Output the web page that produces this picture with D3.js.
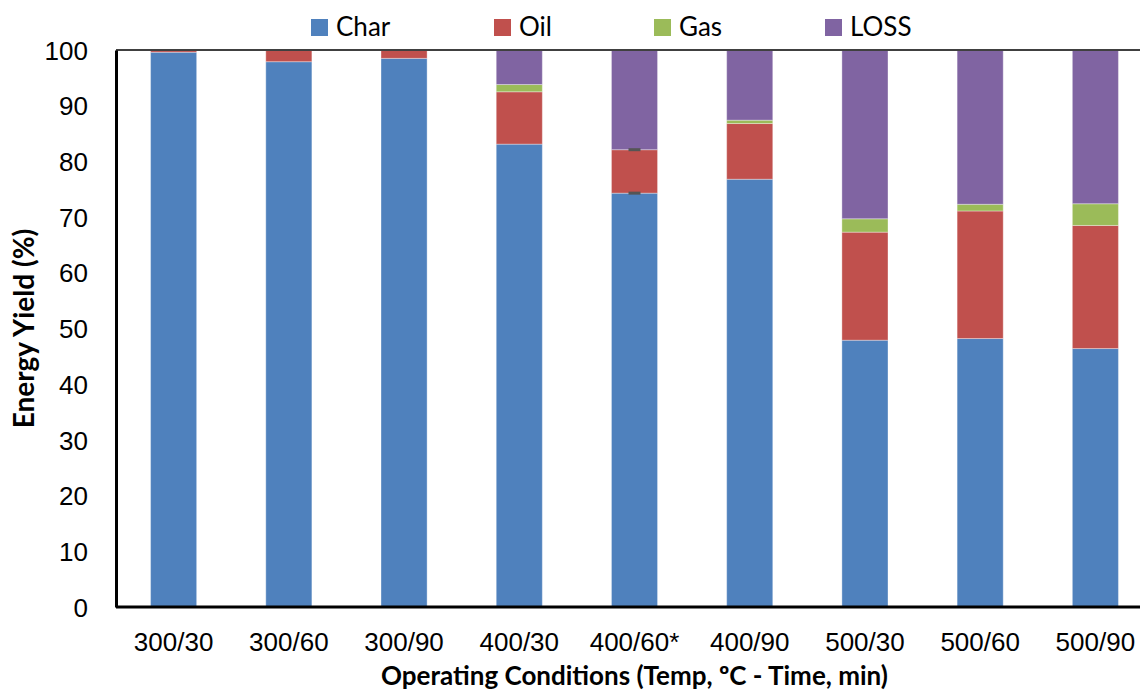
<!DOCTYPE html>
<html>
<head>
<meta charset="utf-8">
<script src="https://cdn.jsdelivr.net/npm/d3@7"></script>
<style>
  html, body { margin: 0; padding: 0; background: #fff; }
  svg { display: block; font-family: Lato, "Open Sans", sans-serif; }
</style>
</head>
<body>
<svg id="chart" width="1140" height="691"></svg>
<script>
// Operating conditions (temperature °C / residence time min)
const categories = ["300/30", "300/60", "300/90", "400/30", "400/60*", "400/90", "500/30", "500/60", "500/90"];
// Energy yield shares (%) per product
const charVals = [99.6, 97.9, 98.5, 83.1, 74.3, 76.8, 47.9, 48.2, 46.4];
const oilVals  = [0.4, 2.1, 1.5, 9.4, 7.8, 10.0, 19.4, 22.9, 22.1];
const gasVals  = [0, 0, 0, 1.3, 0, 0.6, 2.4, 1.2, 3.9];
const lossVals = [0, 0, 0, 6.2, 17.9, 12.6, 30.3, 27.7, 27.6];
// Error half-widths shown for the replicated run (400/60*)
const charErr = [0, 0, 0, 0, 0.15, 0, 0, 0, 0];
const oilErr  = [0, 0, 0, 0, 0.15, 0, 0, 0, 0];
const seriesNames = ["Char", "Oil", "Gas", "LOSS"];
const seriesColors = ["#4F81BD", "#C0504D", "#9BBB59", "#8064A2"];
const yTicks = [0, 10, 20, 30, 40, 50, 60, 70, 80, 90, 100];

const svg = d3.select("#chart");
const m = { left: 116, right: 1153, top: 50, bottom: 607 };

const x = d3.scaleBand().domain(categories).range([m.left, m.right]).paddingInner(0.6).paddingOuter(0.3);
const y = d3.scaleLinear().domain([0, 100]).range([m.bottom, m.top]);

const rows = categories.map((c, i) => ({
  cat: c, Char: charVals[i], Oil: oilVals[i], Gas: gasVals[i], LOSS: lossVals[i]
}));
const stacked = d3.stack().keys(seriesNames)(rows);

// Stacked bars
svg.append("g").selectAll("g")
  .data(stacked).join("g")
  .attr("fill", (d, i) => seriesColors[i])
  .selectAll("rect")
  .data(d => d.filter(p => p[1] - p[0] > 0))
  .join("rect")
  .attr("x", d => x(d.data.cat))
  .attr("width", x.bandwidth())
  .attr("y", d => y(d[1]))
  .attr("height", d => y(d[0]) - y(d[1]))
  .attr("stroke", "rgba(255,255,255,0.35)")
  .attr("stroke-width", 1);

// Error caps on char and oil tops
const errG = svg.append("g").attr("stroke", "#555").attr("stroke-width", 3);
categories.forEach((c, i) => {
  const cx = x(c) + x.bandwidth() / 2;
  [[charVals[i], charErr[i]], [charVals[i] + oilVals[i], oilErr[i]]].forEach(([v, e]) => {
    if (e > 0) {
      errG.append("line").attr("x1", cx - 6).attr("x2", cx + 6)
        .attr("y1", y(v)).attr("y2", y(v));
    }
  });
});

// Plot frame: grey top border, black left and bottom axes
svg.append("line").attr("x1", m.left).attr("x2", 1140)
  .attr("y1", m.top).attr("y2", m.top).attr("stroke", "#404040").attr("stroke-width", 2);

const yAxis = d3.axisLeft(y).tickValues(yTicks).tickSize(0).tickPadding(28);
const yg = svg.append("g").attr("transform", `translate(${m.left},0)`).call(yAxis);
yg.select(".domain").attr("stroke", "#000").attr("stroke-width", 3);
yg.selectAll("text").attr("font-size", 26).attr("fill", "#000").attr("dy", "0.35em");

const xAxis = d3.axisBottom(x).tickSize(0);
const xg = svg.append("g").attr("transform", `translate(0,${m.bottom})`).call(xAxis);
xg.select(".domain").attr("stroke", "#000").attr("stroke-width", 3).attr("d", `M${m.left},0H1140`);
xg.selectAll("text").attr("font-size", 26).attr("fill", "#000").attr("y", 35).attr("dy", "0.35em");

// Axis titles
svg.append("text").attr("x", (m.left + m.right) / 2).attr("y", 685)
  .attr("text-anchor", "middle").attr("font-size", 26).attr("font-weight", "bold")
  .text("Operating Conditions (Temp, ºC - Time, min)");
svg.append("text").attr("transform", `translate(34,${(m.top + m.bottom) / 2}) rotate(-90)`)
  .attr("text-anchor", "middle").attr("font-size", 28).attr("font-weight", "bold")
  .text("Energy Yield (%)");

// Legend
const legendX = [311, 494, 654, 825];
const lg = svg.append("g");
seriesNames.forEach((n, i) => {
  lg.append("rect").attr("x", legendX[i]).attr("y", 19).attr("width", 17).attr("height", 17)
    .attr("fill", seriesColors[i]);
  lg.append("text").attr("x", legendX[i] + 25).attr("y", 27).attr("dy", "0.35em")
    .attr("font-size", 26).attr("fill", "#000").text(n);
});
</script>
</body>
</html>
